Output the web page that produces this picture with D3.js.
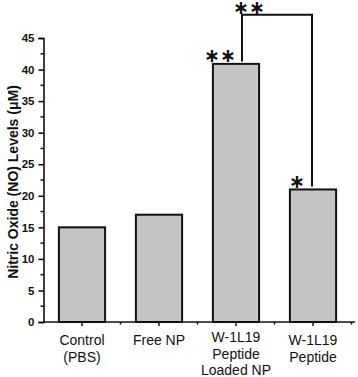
<!DOCTYPE html>
<html>
<head>
<meta charset="utf-8">
<script src="https://cdn.jsdelivr.net/npm/d3@7"></script>
<style>
  body { margin: 0; background: #fff; }
  svg { display: block; font-family: Arial, "Liberation Sans", sans-serif; }
</style>
</head>
<body>
<div id="chart"></div>
<script>
// data
const categories = ["Control (PBS)", "Free NP", "W-1L19 Peptide Loaded NP", "W-1L19 Peptide"];
const labelLines = [["Control", "(PBS)"], ["Free NP"], ["W-1L19", "Peptide", "Loaded NP"], ["W-1L19", "Peptide"]];
const values = [15, 17, 40.9, 21];
const yTicks = [0, 5, 10, 15, 20, 25, 30, 35, 40, 45];
const barStars = [{cat: "W-1L19 Peptide Loaded NP", text: "∗∗"}, {cat: "W-1L19 Peptide", text: "∗"}];
const bracket = {from: "W-1L19 Peptide Loaded NP", to: "W-1L19 Peptide", top: 48.7, text: "∗∗"};

const width = 358, height = 377;
const margin = {left: 43.5, right: 6.5, top: 38, bottom: 55};

let svg = d3.select("#chart").append("svg")
    .attr("width", width)
    .attr("height", height);

let x = d3.scaleBand()
    .domain(categories)
    .range([margin.left, width - margin.right])
    .paddingInner(0.4)
    .paddingOuter(0.2);

let y = d3.scaleLinear()
    .domain([0, 45])
    .range([height - margin.bottom, margin.top]);

let data = categories.map((c, i) => ({cat: c, value: values[i], lines: labelLines[i]}));

// bars
svg.append("g")
    .selectAll("rect")
    .data(data)
    .enter().append("rect")
    .attr("x", d => x(d.cat))
    .attr("y", d => y(d.value))
    .attr("width", x.bandwidth())
    .attr("height", d => y(0) - y(d.value))
    .attr("fill", "#c4c4c4")
    .attr("stroke", "#111")
    .attr("stroke-width", 2);

// y axis
let yAxis = svg.append("g")
    .attr("transform", "translate(" + margin.left + ",0)")
    .call(d3.axisLeft(y).tickValues(yTicks).tickSize(5).tickPadding(4));
yAxis.select(".domain").attr("stroke-width", 1.5);
yAxis.selectAll(".tick line").attr("stroke-width", 1.5);
yAxis.selectAll("text")
    .style("font-size", "11.5px")
    .style("font-weight", "bold")
    .attr("fill", "#111");

// minor y ticks
svg.append("g")
    .selectAll("line")
    .data(d3.range(2.5, 45, 5))
    .enter().append("line")
    .attr("x1", margin.left - 3)
    .attr("x2", margin.left)
    .attr("y1", d => y(d))
    .attr("y2", d => y(d))
    .attr("stroke", "#111")
    .attr("stroke-width", 1.5);

// x axis
let step = x.step();
svg.append("line")
    .attr("x1", margin.left)
    .attr("x2", width - 3)
    .attr("y1", y(0))
    .attr("y2", y(0))
    .attr("stroke", "#111")
    .attr("stroke-width", 1.5);

svg.append("g")
    .selectAll("line")
    .data(categories)
    .enter().append("line")
    .attr("x1", d => x(d) + x.bandwidth() / 2)
    .attr("x2", d => x(d) + x.bandwidth() / 2)
    .attr("y1", y(0))
    .attr("y2", y(0) + 4)
    .attr("stroke", "#111")
    .attr("stroke-width", 1.5);

svg.append("g")
    .selectAll("line")
    .data(d3.range(1, 5))
    .enter().append("line")
    .attr("x1", d => margin.left + d * step)
    .attr("x2", d => margin.left + d * step)
    .attr("y1", y(0))
    .attr("y2", y(0) + 2.5)
    .attr("stroke", "#111")
    .attr("stroke-width", 1.5);

// category labels
let lab = svg.append("g")
    .selectAll("text")
    .data(data)
    .enter().append("text")
    .attr("text-anchor", "middle")
    .style("font-size", "14px")
    .attr("fill", "#111")
    .attr("transform", d => "translate(" + (x(d.cat) + x.bandwidth() / 2) + "," + (d.lines.length === 3 ? 342 : 345) + ")");

lab.selectAll("tspan")
    .data(d => d.lines)
    .enter().append("tspan")
    .attr("x", 0)
    .attr("y", (d, i) => i * 16.5)
    .text(d => d);

// y title
svg.append("text")
    .attr("transform", "translate(18," + 182 + ") rotate(-90)")
    .attr("text-anchor", "middle")
    .style("font-size", "14px")
    .style("font-weight", "bold")
    .attr("fill", "#111")
    .text("Nitric Oxide (NO) Levels (μM)");

// significance stars over bars
svg.append("g")
    .selectAll("text")
    .data(barStars)
    .enter().append("text")
    .attr("x", d => x(d.cat) + x.bandwidth() / 2 - 16)
    .attr("y", d => y(values[categories.indexOf(d.cat)]) - 8.5)
    .attr("text-anchor", "middle")
    .attr("dominant-baseline", "central")
    .style("font-family", "'DejaVu Sans', sans-serif")
    .style("font-size", "19px")
    .style("font-weight", "bold")
    .attr("fill", "#111")
    .text(d => d.text);

// bracket
let xl = x(bracket.from) + x.bandwidth() / 2 + 6;
let xr = x(bracket.to) + x.bandwidth() / 2 - 1;
let vl = values[categories.indexOf(bracket.from)];
let vr = values[categories.indexOf(bracket.to)];
svg.append("path")
    .attr("d", "M" + xl + "," + (y(vl) - 2.5) + "V" + y(bracket.top) + "H" + xr + "V" + (y(vr) - 3))
    .attr("fill", "none")
    .attr("stroke", "#111")
    .attr("stroke-width", 2);

svg.append("text")
    .attr("x", xl + 7)
    .attr("y", y(bracket.top) - 8)
    .attr("text-anchor", "middle")
    .attr("dominant-baseline", "central")
    .style("font-family", "'DejaVu Sans', sans-serif")
    .style("font-size", "19px")
    .style("font-weight", "bold")
    .attr("fill", "#111")
    .text(bracket.text);
</script>
</body>
</html>
